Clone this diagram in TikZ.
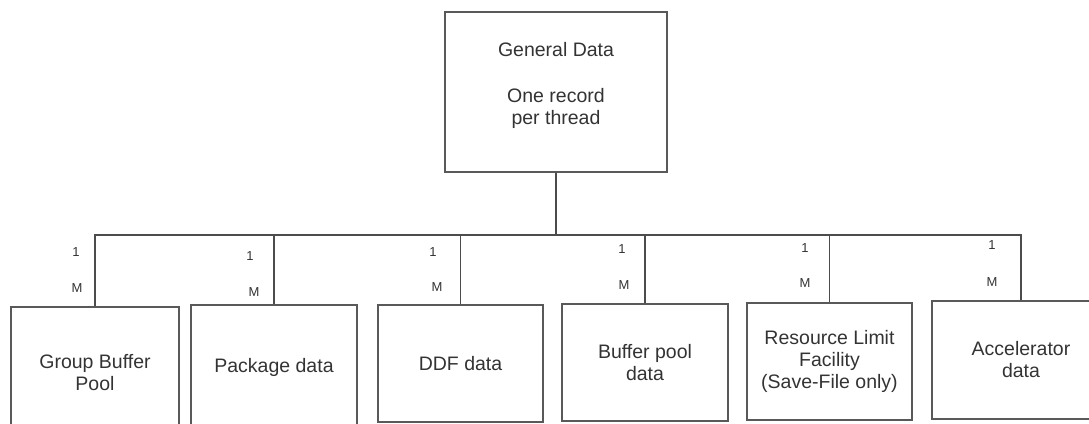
\documentclass[tikz,border=0pt]{standalone}
\usepackage{fontspec}
\setmainfont{Liberation Sans}
\usepackage{tikz}
\usepackage{xcolor}
\usetikzlibrary{positioning}

\begin{document}
\begin{tikzpicture}
[
x=1pt, y=-1pt,
box-top/.style={rectangle, draw=black!65, line width=1.3pt, text=black!80, align=center,
                font=\fontsize{19.5}{22}\selectfont, minimum width=222pt, minimum height=160pt},
box-sub/.style={rectangle, draw=black!65, line width=1.3pt, text=black!80, align=center,
                font=\fontsize{19.5}{22}\selectfont, minimum width=166pt, minimum height=117pt},
text-a/.style={text=black!80, font=\fontsize{13}{15}\selectfont, inner sep=0pt},
line-a/.style={draw=black!70, line width=1.1pt}
]

\path [use as bounding box, clip] (0,0) rectangle (1089,423);

\node (general)  [box-top]                                          at (556,92)     {General Data\\[24pt]One record\\per thread\\[-5pt]\mbox{}};
\node (gbp)      [box-sub, minimum width=168pt, minimum height=132pt] at (95,373)   {Group Buffer\\Pool};
\node (package)  [box-sub, minimum height=124pt]                     at (274,367)   {Package data};
\node (ddf)      [box-sub, minimum width=165pt]                      at (460.5,363.5) {DDF data};
\node (bufpool)  [box-sub]                                           at (645,362.5) {Buffer pool\\data};
\node (rlf)      [box-sub, minimum width=165pt]                      at (829.5,361.5) {Resource Limit\\Facility\\(Save-File only)};
\node (accel)    [box-sub, minimum width=178pt, minimum height=118pt] at (1021,360)   {Accelerator\\data};

\coordinate (bus) at (0,235);

\node (gbp-1)     [text-a] at (76,252)  {1};
\node (gbp-m)     [text-a] at (77,288)  {M};
\node (package-1) [text-a] at (250,256) {1};
\node (package-m) [text-a] at (254,292) {M};
\node (ddf-1)     [text-a] at (433,252) {1};
\node (ddf-m)     [text-a] at (437,287) {M};
\node (bufpool-1) [text-a] at (622,249) {1};
\node (bufpool-m) [text-a] at (624,285) {M};
\node (rlf-1)     [text-a] at (805,248) {1};
\node (rlf-m)     [text-a] at (805,283) {M};
\node (accel-1)   [text-a] at (992,245) {1};
\node (accel-m)   [text-a] at (992,282) {M};

\draw [line-a] (general.south) -- (general.south |- bus);
\draw [line-a] (gbp.north) -- (gbp.north |- bus) -- (accel.north |- bus) -- (accel.north);
\draw [line-a] (package.north) -- (package.north |- bus);
\draw [line-a] (ddf.north) -- (ddf.north |- bus);
\draw [line-a] (bufpool.north) -- (bufpool.north |- bus);
\draw [line-a] (rlf.north) -- (rlf.north |- bus);

\end{tikzpicture}
\end{document}
